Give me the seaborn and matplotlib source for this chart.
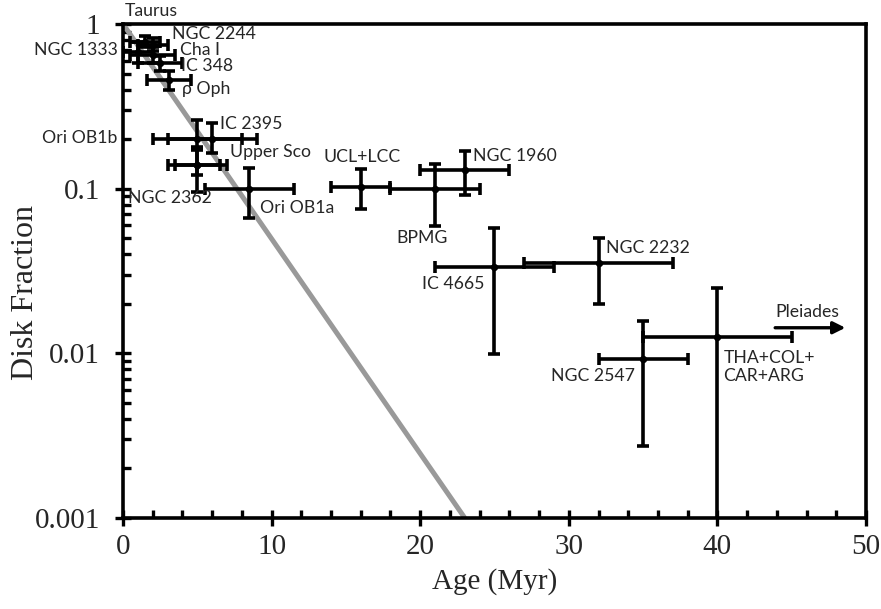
import numpy as np
import pandas as pd
import matplotlib
matplotlib.use("Agg")
import matplotlib.pyplot as plt
import seaborn as sns
from matplotlib.ticker import MultipleLocator, LogLocator, FixedLocator, FixedFormatter, NullFormatter

# ---- data ----
names = ["Taurus", "NGC 1333", "NGC 2244", "Cha I", "IC 348", "ρ Oph",
         "Ori OB1b", "IC 2395", "Upper Sco", "NGC 2362", "Ori OB1a",
         "UCL+LCC", "BPMG", "NGC 1960", "IC 4665", "NGC 2232",
         "NGC 2547", "THA+COL+CAR+ARG"]
age = [1.5, 1.0, 2.0, 2.0, 2.5, 3.1,
       5.0, 6.0, 5.0, 5.0, 8.5,
       16.0, 21.0, 23.0, 25.0, 32.0,
       35.0, 40.0]
age_err = [1.0, 1.0, 1.0, 1.5, 1.5, 1.5,
           3.0, 3.0, 2.0, 1.5, 3.0,
           2.0, 3.0, 3.0, 4.0, 5.0,
           3.0, 5.0]
frac = [0.78, 0.68, 0.75, 0.65, 0.58, 0.46,
        0.20, 0.20, 0.14, 0.14, 0.10,
        0.102, 0.099, 0.130, 0.0335, 0.0354,
        0.00925, 0.0126]
frac_hi = [0.84, 0.78, 0.82, 0.72, 0.64, 0.52,
           0.26, 0.25, 0.172, 0.175, 0.134,
           0.132, 0.141, 0.169, 0.058, 0.050,
           0.0157, 0.0249]
frac_lo = [0.72, 0.58, 0.69, 0.58, 0.52, 0.40,
           0.179, 0.165, 0.121, 0.095, 0.066,
           0.075, 0.059, 0.092, 0.0099, 0.020,
           0.00274, 0.0005]

fit_age = [0.0, 23.0]
fit_frac = [1.0, 0.001]

x_ticks = [0, 10, 20, 30, 40, 50]
y_ticks = [0.001, 0.01, 0.1, 1]
y_tick_labels = ["0.001", "0.01", "0.1", "1"]

# label text, x, y, ha
labels = [
    ("Taurus", 0.1, 1.20, "left"),
    ("NGC 2244", 3.3, 0.87, "left"),
    ("Cha I", 3.85, 0.695, "left"),
    ("IC 348", 3.9, 0.556, "left"),
    ("ρ Oph", 4.0, 0.403, "left"),
    ("NGC 1333", -0.35, 0.695, "right"),
    ("IC 2395", 6.5, 0.247, "left"),
    ("Ori OB1b", -0.35, 0.203, "right"),
    ("Upper Sco", 7.2, 0.167, "left"),
    ("NGC 2362", 0.34, 0.088, "left"),
    ("Ori OB1a", 9.2, 0.076, "left"),
    ("UCL+LCC", 13.5, 0.156, "left"),
    ("BPMG", 18.4, 0.050, "left"),
    ("NGC 1960", 23.55, 0.158, "left"),
    ("IC 4665", 20.1, 0.0264, "left"),
    ("NGC 2232", 32.5, 0.0436, "left"),
    ("NGC 2547", 28.8, 0.0073, "left"),
    ("THA+COL+\nCAR+ARG", 40.4, 0.00826, "left"),
    ("Pleiades", 43.9, 0.0178, "left"),
]
pleiades_arrow = (43.7, 48.8, 0.0143)

df = pd.DataFrame({"name": names, "age": age, "age_err": age_err,
                   "frac": frac, "frac_hi": frac_hi, "frac_lo": frac_lo})

sns.set_style("ticks")
plt.rcParams["font.family"] = ["Liberation Serif", "DejaVu Serif"]

fig = plt.figure(figsize=(8.81, 6.09), dpi=100)
ax = fig.add_axes([123 / 881, 1 - 518 / 609, (866 - 123) / 881, (518 - 24) / 609])

# fit line
ax.plot(fit_age, fit_frac, color="#999999", lw=3.6, zorder=2, solid_capstyle="butt")

yerr = np.vstack([df["frac"] - df["frac_lo"], df["frac_hi"] - df["frac"]])
ax.errorbar(df["age"], df["frac"], xerr=df["age_err"], yerr=yerr, fmt="none",
            ecolor="black", elinewidth=2.6, capsize=4.5, capthick=2.6, zorder=3)
sns.scatterplot(data=df, x="age", y="frac", ax=ax, color="black", s=28,
                edgecolor="black", linewidth=0, zorder=4, legend=False)

ax.set_yscale("log")
ax.set_xlim(0, 50)
ax.set_ylim(0.001, 1)

ax.xaxis.set_major_locator(FixedLocator(x_ticks))
ax.xaxis.set_minor_locator(MultipleLocator(2))
ax.yaxis.set_major_locator(FixedLocator(y_ticks))
ax.yaxis.set_major_formatter(FixedFormatter(y_tick_labels))
ax.yaxis.set_minor_locator(LogLocator(base=10, subs=np.arange(2, 10)))
ax.yaxis.set_minor_formatter(NullFormatter())

ax.tick_params(which="major", direction="inout", length=11, width=2.4,
               labelsize=21, color="black")
ax.tick_params(which="minor", direction="in", length=6, width=2.4, color="black")
ax.tick_params(axis="y", which="major", pad=11)
ax.tick_params(axis="x", which="major", pad=6)

for s in ax.spines.values():
    s.set_linewidth(2.6)
    s.set_color("black")
    s.set_visible(True)

ax.set_xlabel("Age (Myr)", fontsize=21, labelpad=6)
ax.set_ylabel("Disk Fraction", fontsize=23)
ax.yaxis.set_label_coords(-0.112, 0.457)

for txt, x, y, ha in labels:
    ax.text(x, y, txt, ha=ha, va="center", fontsize=12.7,
            family=["Lato", "DejaVu Sans"], clip_on=False, linespacing=1.1)

ax.annotate("", xy=(pleiades_arrow[1], pleiades_arrow[2]),
            xytext=(pleiades_arrow[0], pleiades_arrow[2]),
            arrowprops=dict(arrowstyle="-|>", color="black", lw=2.4,
                            mutation_scale=18))

ax.set_facecolor("white")
fig.patch.set_facecolor("white")
fig.savefig("out.png", dpi=100, facecolor="white")
